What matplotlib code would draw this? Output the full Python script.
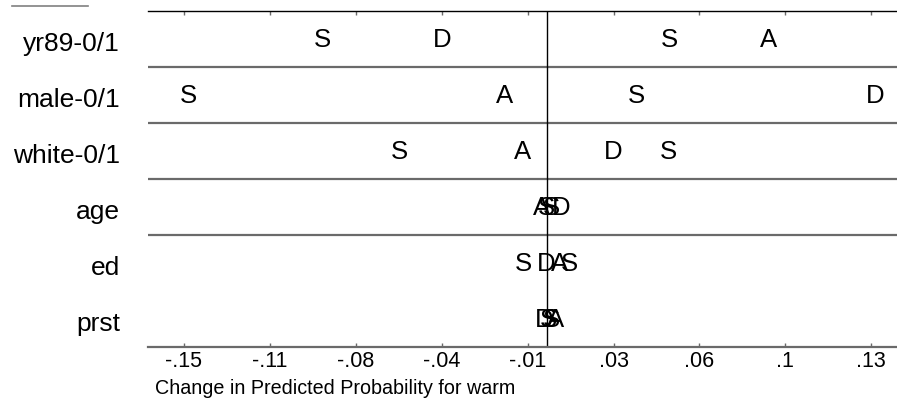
import matplotlib
matplotlib.use("Agg")
import matplotlib.pyplot as plt
import matplotlib.transforms as mtransforms
from matplotlib import font_manager
import numpy as np

# ---- data ----
variables = ["yr89-0/1", "male-0/1", "white-0/1", "age", "ed", "prst"]
categories = ["SD", "D", "A", "SA"]
symbols = ["S", "D", "A", "S"]
sd_vals = [-0.0919, 0.0340, 0.0469, -0.0018, -0.0112, -0.0011]
d_vals = [-0.0438, 0.1300, 0.0248, 0.0042, -0.0021, -0.0029]
a_vals = [0.0870, -0.0185, -0.0113, -0.0038, 0.0032, 0.0016]
sa_vals = [0.0473, -0.1456, -0.0610, 0.0002, 0.0072, 0.0003]
tick_labels = ["-.15", "-.11", "-.08", "-.04", "-.01", ".03", ".06", ".1", ".13"]
xlabel = "Change in Predicted Probability for warm"
separators_after = [0, 1, 2, 3]  # lines drawn below these rows

W, H = 897, 400
fig = plt.figure(figsize=(W / 100, H / 100), dpi=100)
ax_left, ax_top, ax_bottom = 148, 11, 347
ax = fig.add_axes([ax_left / W, 1 - ax_bottom / H, 1 - ax_left / W, (ax_bottom - ax_top) / H])

fam = "Liberation Sans"
names = {f.name for f in font_manager.fontManager.ttflist}
narrow = "Liberation Sans Narrow" if "Liberation Sans Narrow" in names else None

all_vals = np.array([sd_vals, d_vals, a_vals, sa_vals])
xmin, xmax = all_vals.min(), all_vals.max()
ticks = np.linspace(xmin, xmax, 9)
scale = (871.3 - 184.0) / (xmax - xmin)  # px per unit
ax.set_xlim(xmin - (184 - ax_left) / scale, xmax + (W - 871.3) / scale)
n = len(variables)
ax.set_ylim(n, 0)

gray = "#6a6a6a"
for s in ["left", "right"]:
    ax.spines[s].set_visible(False)
ax.spines["top"].set_color("black")
ax.spines["top"].set_linewidth(1.0)
ax.spines["bottom"].set_color(gray)
ax.spines["bottom"].set_linewidth(1.6)

ax.set_xticks(ticks)
ax.set_xticklabels(tick_labels, fontsize=15.5, family=fam)
ax.tick_params(axis="x", direction="in", length=3, width=1, color=gray,
               top=True, bottom=True, pad=3)
ax.set_yticks([])

for r in separators_after:
    ax.axhline(r + 1, color=gray, lw=1.6)
ax.axvline(0, color="black", lw=1.0)

letter_tr = mtransforms.offset_copy(ax.transData, fig=fig, x=4, y=-8, units="dots")
series = [sd_vals, d_vals, a_vals, sa_vals]
for sym, vals in zip(symbols, series):
    for i, v in enumerate(vals):
        ax.text(v, i + 0.5, sym, transform=letter_tr, ha="center", va="baseline",
                fontsize=18.5, family=fam, color="black")

lab_tr = mtransforms.offset_copy(
    mtransforms.blended_transform_factory(ax.transAxes, ax.transData),
    fig=fig, x=-28, y=-12, units="dots")
for i, name in enumerate(variables):
    ax.text(0, i + 0.5, name, transform=lab_tr, ha="right", va="baseline",
            fontsize=19, family=fam, color="black")

if narrow:
    fig.text(155 / W, 1 - 394 / H, xlabel, ha="left", va="baseline",
             fontsize=16.8, family=narrow)
else:
    fig.text(155 / W, 1 - 394 / H, xlabel, ha="left", va="baseline",
             fontsize=14.2, family=fam)

fig.add_artist(plt.Line2D([12 / W, 88 / W], [1 - 6 / H, 1 - 6 / H],
                          color="#808080", lw=1.2, transform=fig.transFigure))

fig.savefig("out.png", dpi=100)
